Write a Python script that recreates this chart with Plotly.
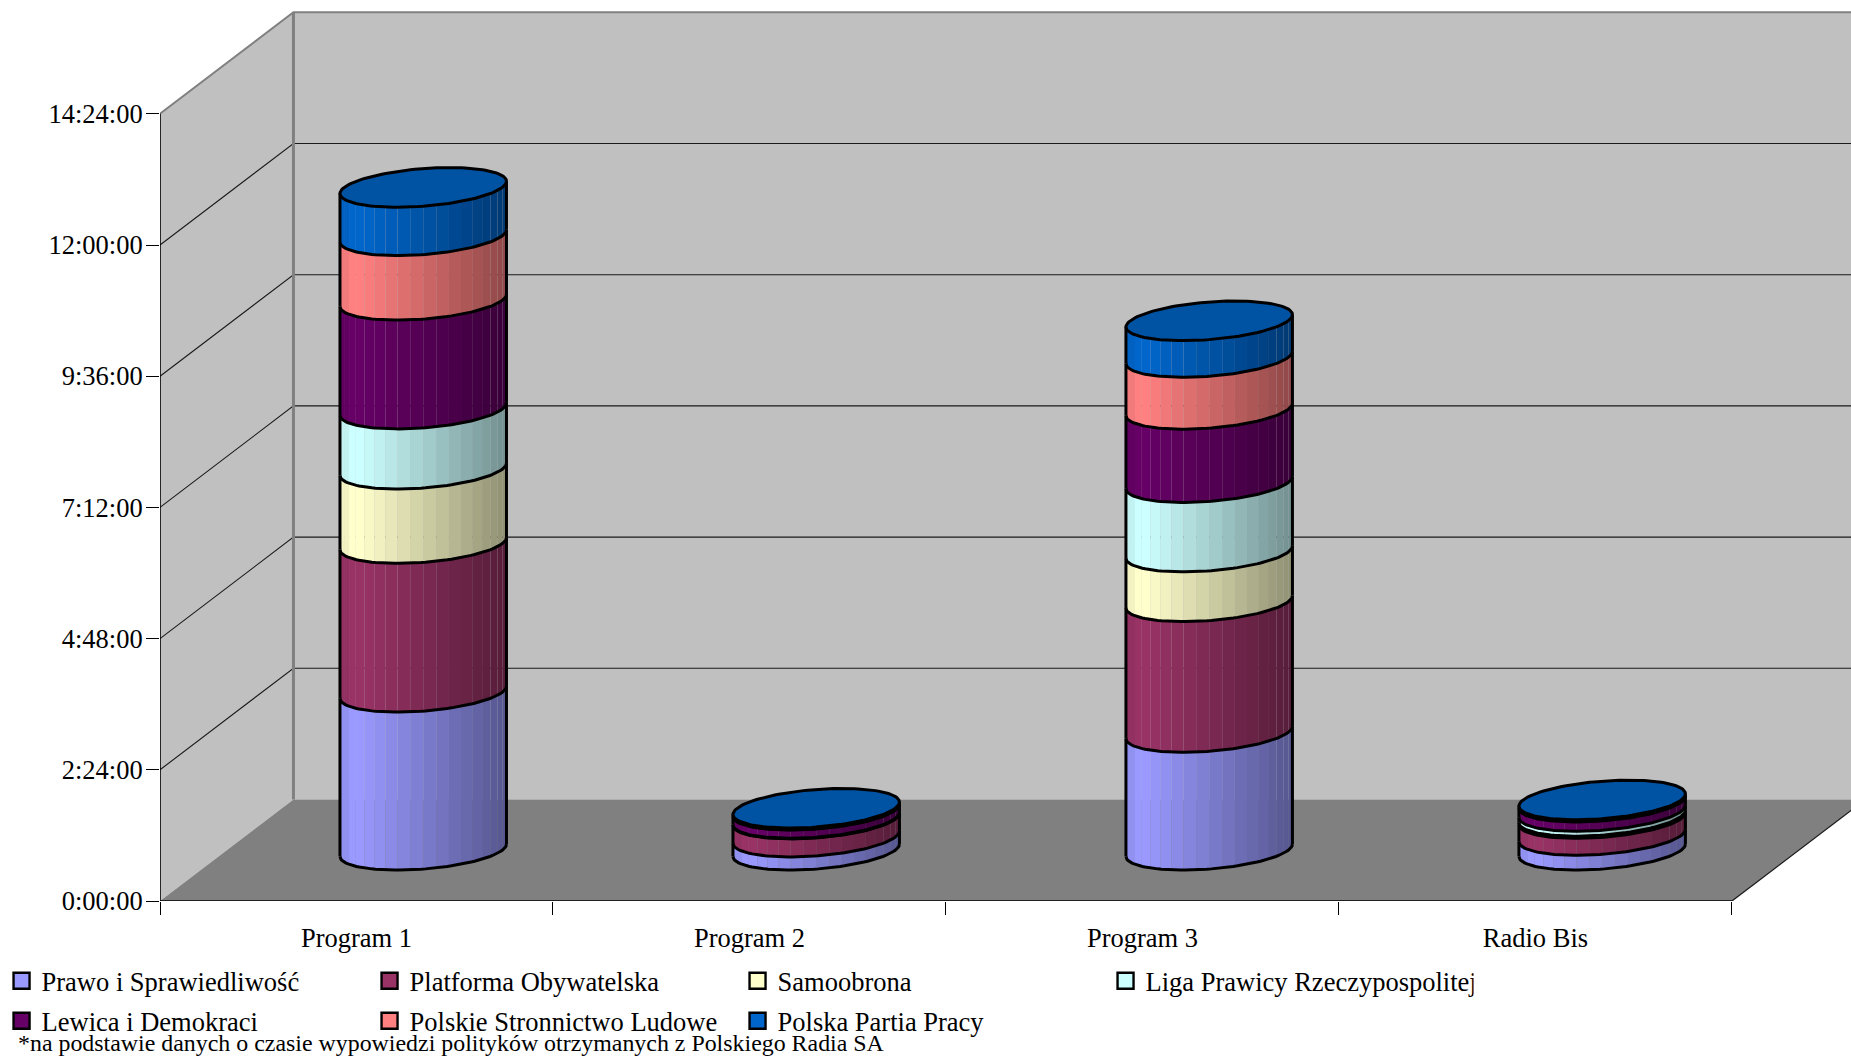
import numpy as np
import plotly.graph_objects as go

categories = ["Program 1", "Program 2", "Program 3", "Radio Bis"]
series_names = ["Prawo i Sprawiedliwość", "Platforma Obywatelska", "Samoobrona",
                "Liga Prawicy Rzeczypospolitej", "Lewica i Demokraci",
                "Polskie Stronnictwo Ludowe", "Polska Partia Pracy"]
# hours per category
pis = [2.89, 0.24, 2.155, 0.27]
po = [2.72, 0.33, 2.39, 0.31]
samoobrona = [1.36, 0.006, 0.91, 0.04]
lpr = [1.10, 0.006, 1.27, 0.09]
lid = [1.99, 0.15, 1.34, 0.17]
psl = [1.18, 0.006, 0.95, 0.01]
ppp = [0.885, 0.03, 0.67, 0.03]
series_values = [pis, po, samoobrona, lpr, lid, psl, ppp]
series_colors = ["#9999FF", "#993366", "#FFFFCC", "#CCFFFF", "#660066", "#FF8080", "#0066CC"]
y_ticks = [0, 2.4, 4.8, 7.2, 9.6, 12.0, 14.4]
y_labels = ["0:00:00", "2:24:00", "4:48:00", "7:12:00", "9:36:00", "12:00:00", "14:24:00"]
footnote = "*na podstawie danych o czasie wypowiedzi polityków otrzymanych z Polskiego Radia SA"

W, H = 1851, 1058
X0, Y0 = 159.5, 901.0          # pixel position of the origin
PX_CAT = 393.1                 # pixels per category
PX_H = 131.2 / 2.4             # pixels per hour
DX, DY = 133.5 / PX_CAT, 101.5 / PX_H   # depth vector in axis units
RX = 79.1 / PX_CAT             # cylinder radius along x
RD = 0.195                     # cylinder radius along depth
YMAX = 14.4
SERIF = "Liberation Serif"
FS = 26.5
EDGE = 3.0


def shade(hex_color, f):
    r, g, b = (int(hex_color[i:i + 2], 16) for i in (1, 3, 5))
    return f"rgb({r * f:.0f},{g * f:.0f},{b * f:.0f})"


def ring(cx, cy, t):
    return (cx + RX * np.cos(t) + RD * DX * np.sin(t),
            cy + RD * DY * np.sin(t))


fig = go.Figure()


def poly(x, y, color):
    fig.add_trace(go.Scatter(x=list(x), y=list(y), mode="none", fill="toself", fillcolor=color,
                             showlegend=False, hoverinfo="skip"))


def line(x, y, color="black", width=1.0, clip=False):
    fig.add_trace(go.Scatter(x=list(x), y=list(y), mode="lines", line=dict(color=color, width=width),
                             showlegend=False, hoverinfo="skip", cliponaxis=clip))


# walls and floor
poly([0, DX, DX, 0], [0, DY, YMAX + DY, YMAX], "#C0C0C0")
poly([DX, 4 + DX, 4 + DX, DX], [DY, DY, YMAX + DY, YMAX + DY], "#C0C0C0")
poly([0, 4, 4 + DX, DX], [0, 0, DY, DY], "#808080")

# grid
for v in y_ticks[1:-1]:
    line([0, DX, 4 + DX], [v, v + DY, v + DY], "#1a1a1a", 1.1)
line([0, DX, 4 + DX], [YMAX, YMAX + DY, YMAX + DY], "#808080", 2)
line([DX, DX], [DY, YMAX + DY], "#808080", 3)
line([0, 0], [0, YMAX], "black", 1.6)
line([0, 4], [0, 0], "black", 1.6)
line([4, 4 + DX], [0, DY], "#1a1a1a", 1.3)

# cylinders
t0 = np.arctan2(RD * DX, RX)
N = 20
edges = np.linspace(t0 + np.pi, t0 + 2 * np.pi, N + 1)
arc = np.linspace(t0 + np.pi, t0 + 2 * np.pi, 60)
full = np.linspace(0, 2 * np.pi, 121)
half_w = np.hypot(RX, RD * DX)

for c in range(len(categories)):
    cx = c + 0.5 + DX / 2
    cy = DY / 2
    base = 0.0
    for s, vals in enumerate(series_values):
        top = base + vals[c]
        for i in range(N):
            tt = np.linspace(edges[i], edges[i + 1], 5)
            xa, ya = ring(cx, cy + base, tt)
            xb, yb = ring(cx, cy + top, tt[::-1])
            u = (xa.mean() - (cx - half_w)) / (2 * half_w)
            f = 1.0 - 0.44 * max(0.0, u - 0.12) / 0.88
            if u < 0.04:
                f = 0.95
            poly(np.r_[xa, xb], np.r_[ya, yb], shade(series_colors[s], f))
        xa, ya = ring(cx, cy + base, arc)
        line(xa, ya, "black", EDGE)
        xl, yl = ring(cx, cy, np.array([t0 + np.pi]))
        xr, yr = ring(cx, cy, np.array([t0]))
        line([xl[0], xl[0]], [yl[0] + base, yl[0] + top], "black", EDGE)
        line([xr[0], xr[0]], [yr[0] + base, yr[0] + top], "black", EDGE)
        base = top
    xt, yt = ring(cx, cy + base, full)
    fig.add_trace(go.Scatter(x=xt, y=yt, mode="lines", fill="toself",
                             fillcolor=shade(series_colors[-1], 0.8),
                             line=dict(color="black", width=EDGE),
                             showlegend=False, hoverinfo="skip", cliponaxis=False))

# legend entries
for s, name in enumerate(series_names):
    fig.add_trace(go.Scatter(x=[None], y=[None], mode="markers", name=name,
                             legend="legend" if s < 4 else "legend2",
                             marker=dict(symbol="square", size=16, color=series_colors[s],
                                         line=dict(color="black", width=2.4))))

plot_w = W - X0
plot_h = Y0


def paper_y(py):
    return (Y0 - py) / plot_h


def paper_x(px):
    return (px - X0) / plot_w


legend_common = dict(orientation="h", xanchor="left", yanchor="middle",
                     entrywidth=323, entrywidthmode="pixels", itemwidth=30,
                     font=dict(family=SERIF, size=FS, color="black"),
                     bgcolor="rgba(0,0,0,0)", tracegroupgap=0, itemclick=False, itemdoubleclick=False)
legend_a = dict(legend_common, x=paper_x(1), y=paper_y(981))
legend_b = dict(legend_common, x=paper_x(1), y=paper_y(1021))

fig.update_layout(
    width=W, height=H, autosize=False,
    margin=dict(l=X0, r=0, t=0, b=H - Y0, pad=0),
    paper_bgcolor="white", plot_bgcolor="white",
    font=dict(family=SERIF, size=FS, color="black"),
    legend=legend_a, legend2=legend_b,
    xaxis=dict(range=[0, plot_w / PX_CAT], tickmode="array",
               tickvals=[i + 0.5 for i in range(len(categories))], ticktext=categories,
               ticks="", showgrid=False, zeroline=False, showline=False, fixedrange=True,
               ticklabelstandoff=18,
               minor=dict(tickmode="array", tickvals=[0, 1, 2, 3, 4], ticks="outside", ticklen=13,
                          tickwidth=1.4, tickcolor="black", showgrid=False)),
    yaxis=dict(range=[0, Y0 / PX_H], tickmode="array", tickvals=y_ticks, ticktext=y_labels,
               ticks="outside", ticklen=13, tickwidth=1.4, tickcolor="black", ticklabelstandoff=-2,
               showgrid=False, zeroline=False, showline=False, fixedrange=True),
    annotations=[dict(text=footnote, xref="paper", yref="paper", x=paper_x(15), y=paper_y(1043),
                      xanchor="left", yanchor="middle", showarrow=False,
                      font=dict(family=SERIF, size=23.9, color="black"))],
)

fig.write_html("out.html", config={"displayModeBar": False},
               post_script="document.body.style.margin='0';document.documentElement.style.overflow='hidden';")
